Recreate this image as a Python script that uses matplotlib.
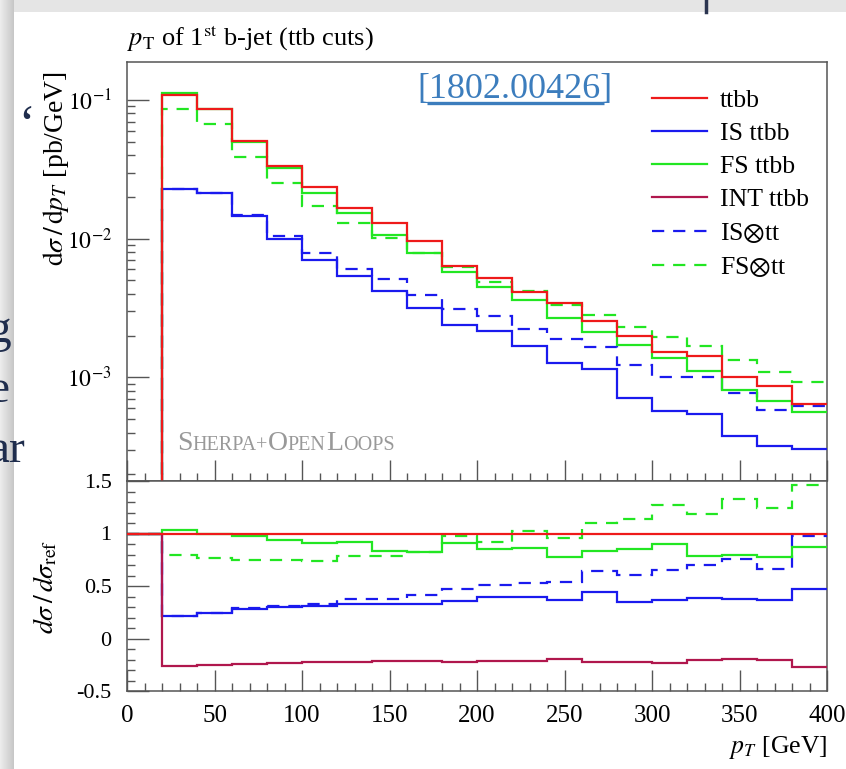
import numpy as np
import matplotlib
matplotlib.use("Agg")
import matplotlib.pyplot as plt
from matplotlib.lines import Line2D
from matplotlib.ticker import MultipleLocator, FixedLocator, NullFormatter

plt.rcParams['font.family'] = ['Liberation Serif', 'DejaVu Serif']
plt.rcParams['mathtext.fontset'] = 'stix'

# bins of 20 GeV, first bin (0-20) is empty
edges = np.arange(0, 401, 20)

ttbb   = [0, 0.109, 0.086, 0.0508, 0.0336, 0.0234, 0.0166, 0.0129, 0.0096, 0.00635, 0.0052,
          0.00416, 0.00346, 0.00255, 0.0020, 0.00152, 0.00142, 0.0010, 0.00087, 0.00064]
is_ttbb = [0, 0.0229, 0.0213, 0.0145, 0.0100, 0.0070, 0.0054, 0.0042, 0.00318, 0.0024, 0.00217,
           0.00168, 0.00127, 0.00114, 0.000705, 0.00057, 0.000547, 0.00038, 0.00032, 0.000305]
fs_ttbb = [0, 0.113, 0.086, 0.0496, 0.0321, 0.0212, 0.0152, 0.0107, 0.0079, 0.0058, 0.0045,
           0.0036, 0.00268, 0.00211, 0.00171, 0.00139, 0.00111, 0.00081, 0.00068, 0.00056]
is_tt  = [0, 0.0228, 0.0213, 0.0149, 0.0104, 0.0079, 0.0060, 0.0051, 0.0039, 0.0031, 0.00275,
          0.00222, 0.0019, 0.00166, 0.00122, 0.0010, 0.0010, 0.00077, 0.00058, 0.00062]
fs_tt  = [0, 0.0865, 0.0668, 0.039, 0.0253, 0.0173, 0.013, 0.0102, 0.0079, 0.0062, 0.0049,
          0.0042, 0.00335, 0.0028, 0.00229, 0.00195, 0.00168, 0.00133, 0.00109, 0.00092]

# ratios to ttbb
r_ttbb  = [1] * 20
r_is    = [1, 0.21, 0.245, 0.28, 0.30, 0.312, 0.331, 0.331, 0.325, 0.357, 0.395,
           0.395, 0.363, 0.443, 0.35, 0.37, 0.382, 0.379, 0.37, 0.475]
r_fs    = [1, 1.038, 1.0, 0.975, 0.94, 0.905, 0.917, 0.834, 0.82, 0.905, 0.853,
           0.863, 0.777, 0.831, 0.857, 0.898, 0.783, 0.80, 0.777, 0.873]
r_int   = [1, -0.258, -0.248, -0.242, -0.236, -0.226, -0.226, -0.21, -0.217, -0.22, -0.217,
           -0.21, -0.197, -0.22, -0.226, -0.236, -0.2, -0.194, -0.2, -0.274]
r_is_tt = [1, 0.21, 0.245, 0.287, 0.309, 0.331, 0.376, 0.376, 0.41, 0.468, 0.506,
           0.532, 0.541, 0.64, 0.608, 0.656, 0.704, 0.755, 0.662, 0.98]
r_fs_tt = [1, 0.80, 0.768, 0.75, 0.745, 0.74, 0.783, 0.783, 0.82, 0.978, 0.92,
           1.025, 0.959, 1.096, 1.137, 1.274, 1.185, 1.328, 1.245, 1.465]

labels = ['ttbb', 'IS ttbb', 'FS ttbb', 'INT ttbb', r'IS$\otimes$tt', r'FS$\otimes$tt']
RED, BLUE, GREEN, CRIMSON = '#ee1a1a', '#1a1aee', '#22e622', '#b0174d'
colors = [RED, BLUE, GREEN, CRIMSON, BLUE, GREEN]
dash = (0, (5.5, 4))
styles = ['-', '-', '-', '-', dash, dash]
LW = 1.6
AX = '#555555'

W, H = 846, 769
fig = plt.figure(figsize=(W / 100, H / 100), dpi=100)

# slide shadow strips behind the chart
bg = fig.add_axes([0, 0, 1, 1], zorder=-5)
bg.set_xlim(0, W); bg.set_ylim(H, 0); bg.axis('off')
grad = np.linspace(0.93, 0.78, 50)[None, :]
bg.imshow(np.repeat(grad[..., None], 3, axis=2), extent=(0, 14, H, 0), aspect='auto')
bg.imshow(np.full((1, 1, 3), 0.9), extent=(14, W, 12, 0), aspect='auto')
bg.plot([706, 706], [0, 12], color='#2b3550', lw=2.5)
bg.text(18, 140, '\u2018', fontsize=36, color='#1f2d4d', ha='left', va='baseline')
for ch, yy in [('g', 342), ('e', 402), ('ar', 462)]:
    bg.text(-12, yy, ch, fontsize=34, color='#1f2d4d', ha='left', va='baseline')

def fx(px): return px / W
def fy(py): return 1 - py / H

ax1 = fig.add_axes([fx(127), fy(481), fx(827) - fx(127), fy(62) - fy(481)])
ax2 = fig.add_axes([fx(127), fy(691), fx(827) - fx(127), fy(481) - fy(691)], sharex=ax1)

upper = [ttbb, is_ttbb, fs_ttbb, None, is_tt, fs_tt]
lower = [r_ttbb, r_is, r_fs, r_int, r_is_tt, r_fs_tt]
order = [4, 5, 1, 2, 3, 0]
for i in order:
    z = 5 if i == 0 else 3
    if upper[i] is not None:
        ax1.stairs(upper[i], edges, color=colors[i], ls=styles[i], lw=LW, zorder=z, baseline=None)
    ax2.stairs(lower[i], edges, color=colors[i], ls=styles[i], lw=LW, zorder=z, baseline=None)

ax1.set_yscale('log', nonpositive='clip')
ax1.set_xlim(0, 400)
ax1.set_ylim(1.79e-4, 0.188)
ax2.set_ylim(-0.5, 1.5)

for a in (ax1, ax2):
    for s in a.spines.values():
        s.set_color(AX); s.set_linewidth(1.1)
    a.xaxis.set_major_locator(MultipleLocator(50))
    a.xaxis.set_minor_locator(MultipleLocator(10))
    a.tick_params(which='both', direction='in', color=AX, width=1.0,
                  top=False, right=False)
    a.tick_params(which='major', length=15)
    a.tick_params(which='minor', length=6)

ax1.tick_params(axis='x', which='both', labelbottom=False)
ax1.tick_params(axis='y', which='major', length=16, pad=11, labelsize=17)
ax1.yaxis.set_major_locator(FixedLocator([1e-3, 1e-2, 1e-1]))
ax1.set_yticklabels([r'$10^{-3}$', r'$10^{-2}$', r'$10^{-1}$'])
ax1.yaxis.set_minor_formatter(NullFormatter())

ax2.yaxis.set_major_locator(MultipleLocator(0.5))
ax2.yaxis.set_minor_locator(MultipleLocator(0.1))
ax2.set_yticks([-0.5, 0, 0.5, 1, 1.5])
ax2.set_yticklabels(['-0.5', '0', '0.5', '1', '1.5'])
ax2.tick_params(axis='y', which='major', length=16, pad=11, labelsize=16)
ax2.tick_params(axis='x', pad=10, labelsize=18)

ax1.set_ylabel(r'$\mathrm{d}\sigma\,/\,\mathrm{d}p_T$ [pb/GeV]', fontsize=20)
ax1.yaxis.set_label_coords(-0.08, 0.745)
ax2.set_ylabel(r'$d\sigma\,/\,d\sigma_{\rm ref}$', fontsize=20)
ax2.yaxis.set_label_coords(-0.096, 0.495)
ax2.set_xlabel(r'$p_T$ [GeV]', fontsize=18.5, ha='right')
ax2.xaxis.set_label_coords(1.0, -0.205)

fig.text(fx(127), fy(46), r'$p_{\rm T}$ of 1$^{\rm st}$ b-jet (ttb cuts)', fontsize=19,
         ha='left', va='baseline')

# reference tag with underline
blue_ref = '#3c7dbd'
ax1.text(0.5536, 0.914, '[1802.00426]', transform=ax1.transAxes, fontsize=26,
         color=blue_ref, ha='center', va='baseline')
ax1.plot([0.428, 0.682], [0.903, 0.903], transform=ax1.transAxes, color=blue_ref, lw=2.4,
         solid_capstyle='butt')

# legend
handles = [Line2D([], [], color=c, ls=s, lw=LW) for c, s in zip(colors, styles)]
ax1.legend(handles, labels, loc='upper left', bbox_to_anchor=(0.75, 0.935), frameon=False,
           fontsize=18.5, handlelength=2.14, handletextpad=0.5, labelspacing=0.39,
           borderpad=0, borderaxespad=0)

# SHERPA+OPENLOOPS in small caps
fig.canvas.draw()
r = fig.canvas.get_renderer()
pieces = [('S', 20), ('HERPA+', 14.5), ('O', 20), ('PEN', 14.5), ('L', 20), ('OOPS', 14.5)]
x0 = 177
for txt, size in pieces:
    t = fig.text(fx(x0), fy(450), txt, fontsize=size, color='#999999', ha='left', va='baseline')
    x0 += t.get_window_extent(renderer=r).width

fig.savefig('out.png', dpi=100)
